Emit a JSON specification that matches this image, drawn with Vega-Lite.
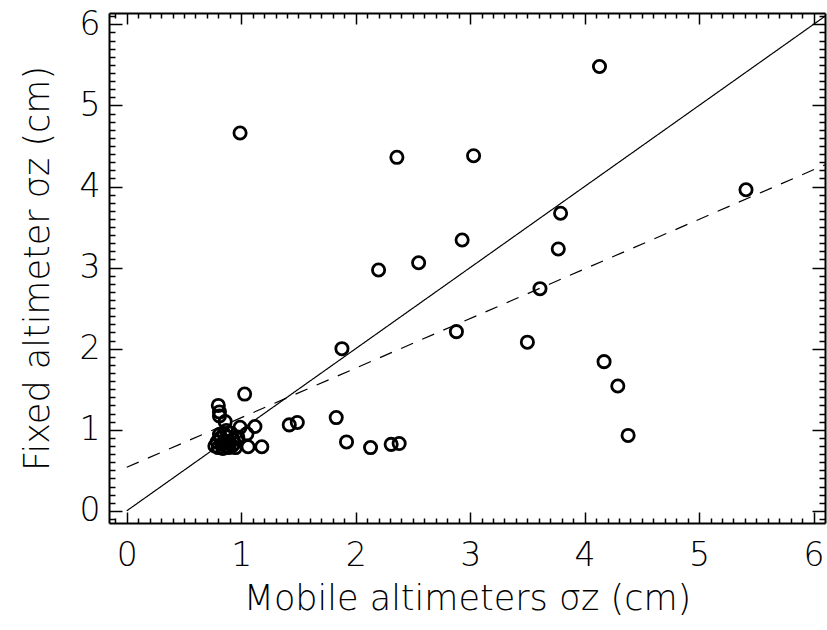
{
  "$schema": "https://vega.github.io/schema/vega-lite/v6.json",
  "autosize": {"type": "none"},
  "padding": {"left": 109, "top": 13, "right": 2, "bottom": 107},
  "width": 716,
  "height": 510,
  "background": "white",
  "config": {
    "view": {"stroke": null},
    "axis": {
      "labelFont": "DejaVu Sans",
      "titleFont": "DejaVu Sans",
      "labelFontSize": 33,
      "titleFontSize": 35,
      "labelFontWeight": 300,
      "titleFontWeight": 300,
      "labelColor": "black",
      "titleColor": "black",
      "domainColor": "black",
      "domainWidth": 2,
      "tickColor": "black",
      "tickWidth": 1.5,
      "grid": false,
      "labelOverlap": false,
      "labelFlush": false
    }
  },
  "datasets": {
    "pts": [
      {"mobile": 0.99, "fixed": 4.66},
      {"mobile": 2.36, "fixed": 4.36},
      {"mobile": 3.03, "fixed": 4.38},
      {"mobile": 2.93, "fixed": 3.34},
      {"mobile": 2.55, "fixed": 3.06},
      {"mobile": 2.2, "fixed": 2.97},
      {"mobile": 4.13, "fixed": 5.48},
      {"mobile": 3.79, "fixed": 3.67},
      {"mobile": 3.77, "fixed": 3.23},
      {"mobile": 3.61, "fixed": 2.74},
      {"mobile": 2.88, "fixed": 2.21},
      {"mobile": 3.5, "fixed": 2.08},
      {"mobile": 4.17, "fixed": 1.84},
      {"mobile": 4.29, "fixed": 1.54},
      {"mobile": 4.38, "fixed": 0.93},
      {"mobile": 5.41, "fixed": 3.96},
      {"mobile": 1.88, "fixed": 2.0},
      {"mobile": 1.42, "fixed": 1.06},
      {"mobile": 1.49, "fixed": 1.09},
      {"mobile": 1.83, "fixed": 1.15},
      {"mobile": 1.92, "fixed": 0.85},
      {"mobile": 2.13, "fixed": 0.78},
      {"mobile": 2.31, "fixed": 0.82},
      {"mobile": 2.38, "fixed": 0.83},
      {"mobile": 1.03, "fixed": 1.44},
      {"mobile": 0.8, "fixed": 1.3},
      {"mobile": 0.81, "fixed": 1.22},
      {"mobile": 0.81, "fixed": 1.17},
      {"mobile": 0.86, "fixed": 1.1},
      {"mobile": 1.12, "fixed": 1.04},
      {"mobile": 0.99, "fixed": 1.03},
      {"mobile": 1.05, "fixed": 0.95},
      {"mobile": 1.18, "fixed": 0.79},
      {"mobile": 1.06, "fixed": 0.79},
      {"mobile": 0.77, "fixed": 0.8},
      {"mobile": 0.79, "fixed": 0.85},
      {"mobile": 0.8, "fixed": 0.78},
      {"mobile": 0.82, "fixed": 0.9},
      {"mobile": 0.83, "fixed": 0.82},
      {"mobile": 0.84, "fixed": 0.77},
      {"mobile": 0.85, "fixed": 0.95},
      {"mobile": 0.86, "fixed": 0.86},
      {"mobile": 0.87, "fixed": 0.8},
      {"mobile": 0.88, "fixed": 0.91},
      {"mobile": 0.89, "fixed": 0.78},
      {"mobile": 0.9, "fixed": 0.84},
      {"mobile": 0.91, "fixed": 0.96},
      {"mobile": 0.92, "fixed": 0.8},
      {"mobile": 0.93, "fixed": 0.88},
      {"mobile": 0.94, "fixed": 0.83},
      {"mobile": 0.87, "fixed": 0.99},
      {"mobile": 0.81, "fixed": 0.94},
      {"mobile": 0.95, "fixed": 0.78},
      {"mobile": 0.97, "fixed": 0.91}
    ],
    "fits": [
      {"fit": "one-to-one", "mobile": 0, "fixed": 0},
      {"fit": "one-to-one", "mobile": 6.3, "fixed": 6.3},
      {"fit": "regression", "mobile": 0, "fixed": 0.537},
      {"fit": "regression", "mobile": 6.3, "fixed": 4.39}
    ]
  },
  "resolve": {"axis": {"x": "independent", "y": "independent"}},
  "layer": [
    {
      "data": {"name": "pts"},
      "mark": {"type": "point", "shape": "circle", "filled": false, "stroke": "black", "strokeWidth": 2.8, "size": 150, "opacity": 1, "clip": true},
      "encoding": {
        "x": {
          "field": "mobile", "type": "quantitative",
          "scale": {"domain": [-0.155, 6.1], "nice": false, "zero": false},
          "axis": {
            "orient": "bottom",
            "title": "Mobile altimeters σz (cm)",
            "values": [-0.1,0,0.1,0.2,0.3,0.4,0.5,0.6,0.7,0.8,0.9,1,1.1,1.2,1.3,1.4,1.5,1.6,1.7,1.8,1.9,2,2.1,2.2,2.3,2.4,2.5,2.6,2.7,2.8,2.9,3,3.1,3.2,3.3,3.4,3.5,3.6,3.7,3.8,3.9,4,4.1,4.2,4.3,4.4,4.5,4.6,4.7,4.8,4.9,5,5.1,5.2,5.3,5.4,5.5,5.6,5.7,5.8,5.9,6],
            "tickSize": {"condition": {"test": "abs(datum.value - round(datum.value)) < 0.001", "value": -11}, "value": -5},
            "labelExpr": "abs(datum.value - round(datum.value)) < 0.001 ? format(round(datum.value), 'd') : ''",
            "labelPadding": 27,
            "titlePadding": 3
          }
        },
        "y": {
          "field": "fixed", "type": "quantitative",
          "scale": {"domain": [-0.15, 6.14], "nice": false, "zero": false},
          "axis": {
            "orient": "left",
            "title": "Fixed altimeter σz (cm)",
            "values": [-0.1,0,0.1,0.2,0.3,0.4,0.5,0.6,0.7,0.8,0.9,1,1.1,1.2,1.3,1.4,1.5,1.6,1.7,1.8,1.9,2,2.1,2.2,2.3,2.4,2.5,2.6,2.7,2.8,2.9,3,3.1,3.2,3.3,3.4,3.5,3.6,3.7,3.8,3.9,4,4.1,4.2,4.3,4.4,4.5,4.6,4.7,4.8,4.9,5,5.1,5.2,5.3,5.4,5.5,5.6,5.7,5.8,5.9,6,6.1],
            "tickSize": {"condition": {"test": "abs(datum.value - round(datum.value)) < 0.001", "value": -13}, "value": -6},
            "labelExpr": "abs(datum.value - round(datum.value)) < 0.001 ? format(round(datum.value), 'd') : ''",
            "labelPadding": 22,
            "titlePadding": 24
          }
        }
      }
    },
    {
      "data": {"name": "fits"},
      "mark": {"type": "line", "color": "black", "strokeWidth": 1.2, "clip": true},
      "encoding": {
        "x": {
          "field": "mobile", "type": "quantitative",
          "axis": {
            "orient": "top",
            "title": null,
            "labels": false,
            "values": [-0.1,0,0.1,0.2,0.3,0.4,0.5,0.6,0.7,0.8,0.9,1,1.1,1.2,1.3,1.4,1.5,1.6,1.7,1.8,1.9,2,2.1,2.2,2.3,2.4,2.5,2.6,2.7,2.8,2.9,3,3.1,3.2,3.3,3.4,3.5,3.6,3.7,3.8,3.9,4,4.1,4.2,4.3,4.4,4.5,4.6,4.7,4.8,4.9,5,5.1,5.2,5.3,5.4,5.5,5.6,5.7,5.8,5.9,6],
            "tickSize": {"condition": {"test": "abs(datum.value - round(datum.value)) < 0.001", "value": -11}, "value": -5}
          }
        },
        "y": {
          "field": "fixed", "type": "quantitative",
          "axis": {
            "orient": "right",
            "title": null,
            "labels": false,
            "values": [-0.1,0,0.1,0.2,0.3,0.4,0.5,0.6,0.7,0.8,0.9,1,1.1,1.2,1.3,1.4,1.5,1.6,1.7,1.8,1.9,2,2.1,2.2,2.3,2.4,2.5,2.6,2.7,2.8,2.9,3,3.1,3.2,3.3,3.4,3.5,3.6,3.7,3.8,3.9,4,4.1,4.2,4.3,4.4,4.5,4.6,4.7,4.8,4.9,5,5.1,5.2,5.3,5.4,5.5,5.6,5.7,5.8,5.9,6,6.1],
            "tickSize": {"condition": {"test": "abs(datum.value - round(datum.value)) < 0.001", "value": -13}, "value": -6}
          }
        },
        "detail": {"field": "fit", "type": "nominal"},
        "strokeDash": {
          "field": "fit", "type": "nominal",
          "scale": {"domain": ["one-to-one", "regression"], "range": [[1, 0], [13, 10]]},
          "legend": null
        }
      }
    }
  ]
}
